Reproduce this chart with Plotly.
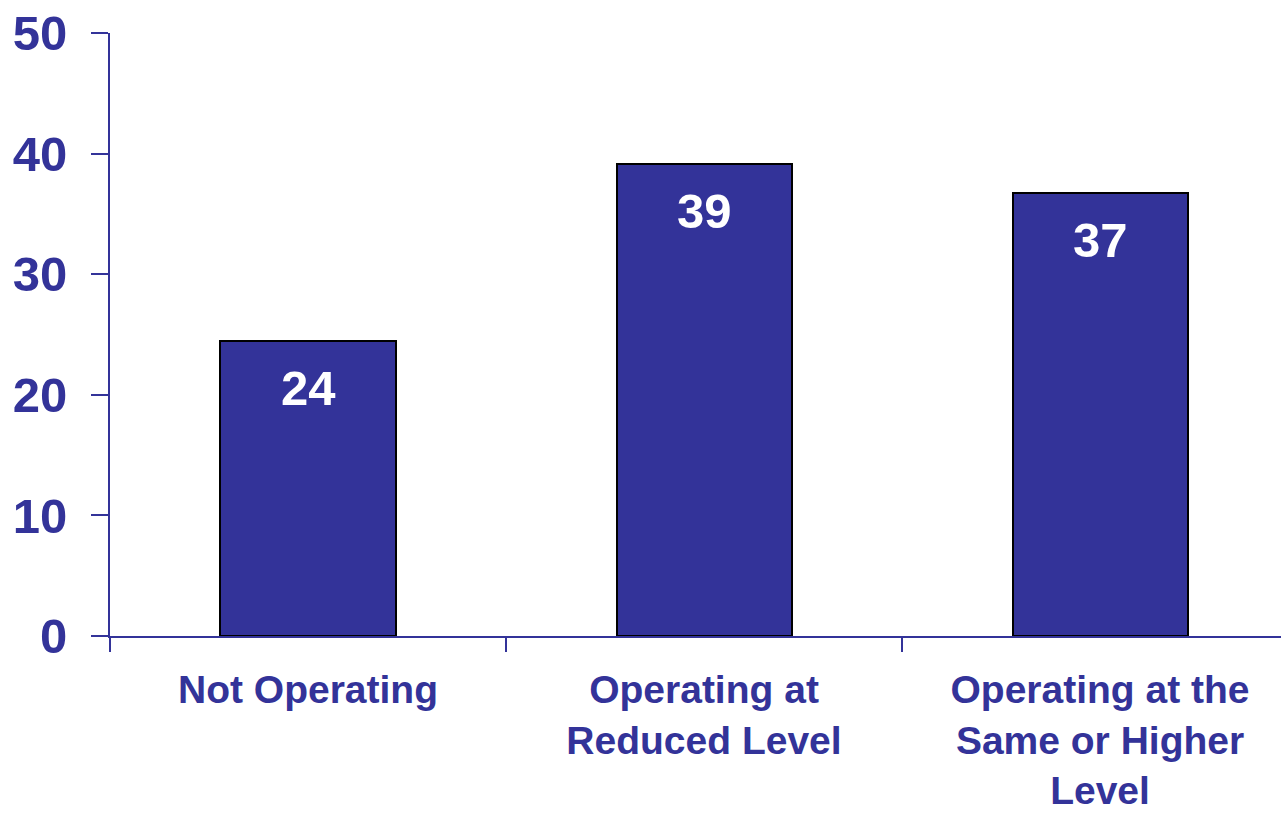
import plotly.graph_objects as go

categories = ["Not Operating", "Operating at<br>Reduced Level", "Operating at the<br>Same or Higher<br>Level"]
values = [24.5, 39.1, 36.7]
value_labels = ["24", "39", "37"]
y_ticks = [0, 10, 20, 30, 40, 50]

NAVY = "#333399"
FONT = "Arial, Liberation Sans, sans-serif"

fig = go.Figure()
fig.add_trace(go.Bar(
    x=categories, y=values, width=0.442,
    marker=dict(color=NAVY, line=dict(color="black", width=2)),
    hoverinfo="skip",
))

for c, v, t in zip(categories, values, value_labels):
    fig.add_annotation(x=c, y=v, text=t, showarrow=False, yanchor="top", yshift=-18,
                       font=dict(family=FONT, size=49, color="white", weight="bold"))

fig.update_layout(
    width=1281, height=814,
    margin=dict(l=110, r=0, t=33, b=178),
    paper_bgcolor="white", plot_bgcolor="white",
    showlegend=False,
    bargap=0,
    xaxis=dict(
        type="category", range=[-0.5, 2.457], automargin=False,
        tickson="boundaries", ticks="outside", ticklen=14, tickwidth=2, tickcolor=NAVY,
        showline=True, linecolor=NAVY, linewidth=2, showgrid=False, zeroline=False,
        tickfont=dict(family=FONT, size=39, color=NAVY, weight="bold"),
        ticklabelstandoff=18,
    ),
    yaxis=dict(
        range=[0, 50], tickvals=y_ticks, automargin=False,
        ticks="outside", ticklen=17, tickwidth=2, tickcolor=NAVY,
        showline=True, linecolor=NAVY, linewidth=2, showgrid=False, zeroline=False,
        tickfont=dict(family=FONT, size=49, color=NAVY, weight="bold"),
        ticklabelstandoff=14,
    ),
)

fig.write_html("out.html", config={"displayModeBar": False},
               post_script="document.body.style.margin='0';document.body.style.overflow='hidden';")
